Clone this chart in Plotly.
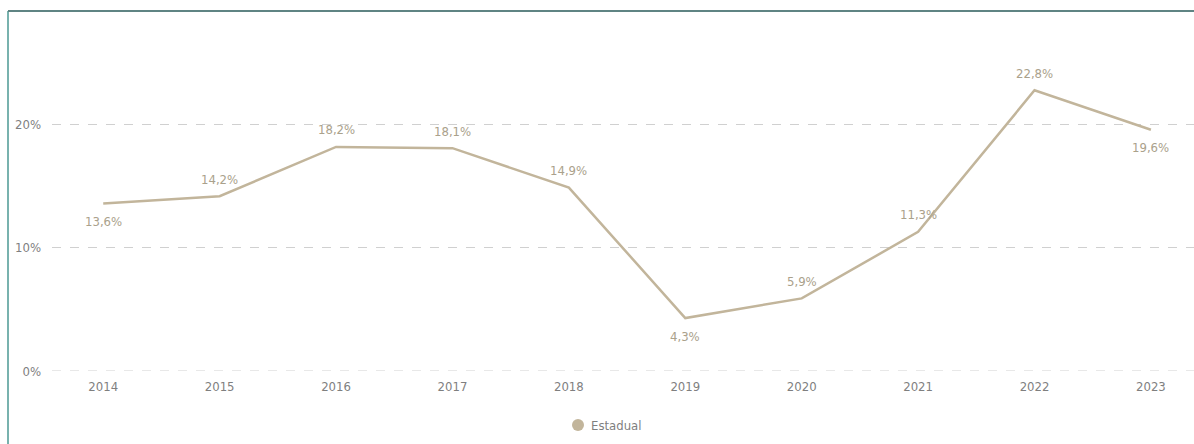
import plotly.graph_objects as go

years = [2014, 2015, 2016, 2017, 2018, 2019, 2020, 2021, 2022, 2023]
values = [13.6, 14.2, 18.2, 18.1, 14.9, 4.3, 5.9, 11.3, 22.8, 19.6]
label_above = [False, True, True, True, True, False, True, True, True, False]
y_ticks = [0, 10, 20]
y_tick_text = ["0%", "10%", "20%"]
series_name = "Estadual"

labels = [f"{v:.1f}".replace(".", ",") + "%" for v in values]

FONT = "DejaVu Sans Condensed, Liberation Sans Narrow, sans-serif"
LINE_COLOR = "#c2b59b"

fig = go.Figure()
fig.add_trace(go.Scatter(
    x=years, y=values, mode="lines",
    line=dict(color=LINE_COLOR, width=2.5),
    showlegend=False, hoverinfo="skip",
))

L, T, B = 52, 30, 73
W, H = 1194, 444
pw = W - L
ph = H - T - B

annotations = []
for x, y, t, up in zip(years, values, labels, label_above):
    annotations.append(dict(x=x, y=y, text=t, showarrow=False, xref="x", yref="y",
                            yshift=17 if up else -18,
                            font=dict(family=FONT, size=13, color="#aaa18b")))

# legend drawn manually (circle + label)
leg_y = -(425 - (H - B)) / ph
annotations.append(dict(x=(589 - L) / pw, y=leg_y, xref="paper", yref="paper",
                        text=series_name, showarrow=False, xanchor="left", yanchor="middle",
                        font=dict(family=FONT, size=13, color="#7f7f7f")))

shapes = [
    dict(type="circle", xref="paper", yref="paper",
         x0=(572 - L) / pw, x1=(584 - L) / pw, y0=leg_y - 6 / ph, y1=leg_y + 6 / ph,
         fillcolor=LINE_COLOR, line=dict(width=0)),
    dict(type="line", xref="x domain", yref="y", x0=0, x1=1, y0=0, y1=0,
         line=dict(color="#d0d0d0", width=1, dash="dash")),
    dict(type="line", xref="paper", yref="paper",
         x0=(8 - L) / pw, x1=(8 - L) / pw, y0=((H - B) - 11) / ph, y1=((H - B) - 450) / ph,
         line=dict(color="#78b2ae", width=2)),
    dict(type="line", xref="paper", yref="paper",
         x0=(8 - L) / pw, x1=1.02, y0=((H - B) - 11) / ph, y1=((H - B) - 11) / ph,
         line=dict(color="#5f8483", width=2)),
]

fig.update_layout(
    width=W, height=H,
    margin=dict(l=L, r=0, t=T, b=B, pad=0),
    paper_bgcolor="white", plot_bgcolor="white",
    font=dict(family=FONT, size=13, color="#8a8a8a"),
    showlegend=False,
    xaxis=dict(range=[2013.56, 2023.37], tickvals=years, ticktext=[str(y) for y in years],
               showgrid=False, zeroline=False, showline=False, ticks="",
               ticklabelstandoff=6,
               tickfont=dict(family=FONT, size=13, color="#7f7f7f")),
    yaxis=dict(range=[0, 27.7], tickvals=y_ticks, ticktext=y_tick_text,
               showgrid=True, gridcolor="#d0d0d0", griddash="dash", gridwidth=1,
               zeroline=False, showline=False, ticks="", ticklabelstandoff=10,
               tickfont=dict(family=FONT, size=13, color="#7f7f7f")),
    annotations=annotations,
    shapes=shapes,
)

fig.write_html("out.html")
